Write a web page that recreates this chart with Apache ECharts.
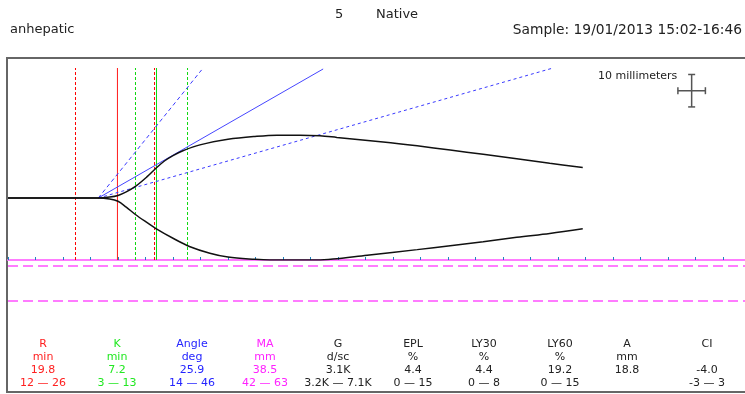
<!DOCTYPE html>
<html>
<head>
<meta charset="utf-8">
<script src="https://cdn.jsdelivr.net/npm/echarts@6/dist/echarts.min.js"></script>
<style>
  html, body { margin: 0; padding: 0; background: #fff; }
  #teg { width: 745px; height: 394px; }
</style>
</head>
<body>
<div id="teg"></div>
<script>
  // tracing, [minutes, mm]
  var upperTrace = [[0, 0], [16.3, 0], [18.5, 0.3], [20.0, 0.8], [21.5, 1.9], [23.1, 3.5], [25.3, 6.6],
    [26.9, 9.2], [28.5, 11.5], [30.0, 13.1], [31.8, 14.6], [34.9, 16.4], [40.0, 18.1], [44.9, 19.0],
    [48.9, 19.4], [53.1, 19.4], [56.7, 19.2], [59.8, 18.7], [68.2, 17.3], [74.4, 16.1], [80.4, 14.8],
    [86.4, 13.5], [92.5, 12.1], [98.5, 10.7], [104.5, 9.4]];
  var lowerTrace = [[0, 0], [16.3, 0], [18.5, -0.3], [20.0, -1.0], [21.5, -2.8], [23.1, -5.0], [25.3, -7.6],
    [26.9, -9.4], [30.0, -12.4], [33.1, -15.0], [36.7, -17.0], [40.0, -18.2], [44.9, -18.9], [47.6, -19.1],
    [56.2, -19.1], [59.1, -18.8], [65.3, -17.6], [74.4, -15.9], [80.4, -14.7], [86.4, -13.5], [92.5, -12.1],
    [98.5, -10.9], [104.5, -9.5]];

  // markers (minutes), as drawn
  var rTime = 19.9;
  var rNormal = [12.27, 26.64];
  var kTime = 27.0;
  var kNormal = [23.18, 32.64];

  // angle lines
  var angleLine = [[16.4, 0], [57.3, 39.8]];
  var angleLowLine = [[16.4, 0], [98.9, 40.0]];
  var angleHighLine = [[16.4, 0], [35.2, 39.5]];

  // lower panel reference levels (mm)
  var lowerRefs = [-20.9, -31.7];

  // 10 mm scale cross (5 min x 10 mm)
  var scaleH = [[121.8, 33.1], [126.8, 33.1]];
  var scaleV = [[124.3, 28.1], [124.3, 38.1]];

  // result table
  var paramNames = ['R', 'K', 'Angle', 'MA', 'G', 'EPL', 'LY30', 'LY60', 'A', 'CI'];
  var paramUnits = ['min', 'min', 'deg', 'mm', 'd/sc', '%', '%', '%', 'mm', ''];
  var paramValues = ['19.8', '7.2', '25.9', '38.5', '3.1K', '4.4', '4.4', '19.2', '18.8', '-4.0'];
  var paramRanges = ['12 — 26', '3 — 13', '14 — 46', '42 — 63', '3.2K — 7.1K', '0 — 15', '0 — 8', '0 — 15', '', '-3 — 3'];
  var paramColors = ['#ff2020', '#22e822', '#2424ff', '#ff22ff', '#222', '#222', '#222', '#222', '#222', '#222'];
  var colX = [43, 117, 192, 265, 338, 413, 484, 560, 627, 707];
  var rowY = [344, 357, 370, 383];

  var FONT = '"DejaVu Sans", Verdana, sans-serif';
  var Y_MIN = -19.1, Y_MAX = 40.1;
  var chart = echarts.init(document.getElementById('teg'));

  var texts = [];
  paramNames.forEach(function (name, i) {
    [name, paramUnits[i], paramValues[i], paramRanges[i]].forEach(function (t, r) {
      texts.push({
        type: 'text', x: colX[i], y: rowY[r], silent: true,
        style: { text: t, fill: paramColors[i], font: '11px ' + FONT, textAlign: 'center', textVerticalAlign: 'middle' }
      });
    });
  });

  // vertical marker spanning the trace panel
  function marker(x, color, dashed) {
    return {
      type: 'line', data: [[x, Y_MIN], [x, Y_MAX]], showSymbol: false, silent: true, z: 1,
      lineStyle: { color: color, width: 1, type: dashed ? [3, 2] : 'solid' }
    };
  }

  var option = {
    animation: false,
    grid: [
      { left: 8, right: 0, top: 68, height: 192 },
      { left: 8, right: 0, top: 260, height: 42 }
    ],
    xAxis: [
      {
        gridIndex: 0, type: 'value', min: 0, max: 134, interval: 5,
        axisLine: { show: true, onZero: false, lineStyle: { color: '#ff7cff', width: 2 } },
        axisTick: { show: true, inside: true, length: 3, lineStyle: { color: '#1f80c0', width: 1 } },
        axisLabel: { show: false }, splitLine: { show: false }
      },
      { gridIndex: 1, type: 'value', min: 0, max: 134, show: false }
    ],
    yAxis: [
      { gridIndex: 0, type: 'value', min: Y_MIN, max: Y_MAX, show: false },
      { gridIndex: 1, type: 'value', min: -32.1, max: -19.1, show: false }
    ],
    series: [
      marker(rNormal[0], '#ff0000', true),
      marker(rNormal[1], '#ff0000', true),
      marker(rTime, '#ff1a1a', false),
      marker(kNormal[0], '#10d810', true),
      marker(kNormal[1], '#10d810', true),
      marker(kTime, '#10d810', false),
      { type: 'line', data: angleLine, showSymbol: false, silent: true, lineStyle: { color: '#4646ff', width: 1 } },
      { type: 'line', data: angleLowLine, showSymbol: false, silent: true, lineStyle: { color: '#3a3aff', width: 1, type: [3, 3] } },
      { type: 'line', data: angleHighLine, showSymbol: false, silent: true, lineStyle: { color: '#3a3aff', width: 1, type: [4, 3] } },
      { type: 'line', data: upperTrace, showSymbol: false, silent: true, smooth: 0.35, lineStyle: { color: '#111', width: 1.5 } },
      { type: 'line', data: lowerTrace, showSymbol: false, silent: true, smooth: 0.35, lineStyle: { color: '#111', width: 1.5 } },
      {
        type: 'line', data: scaleH, silent: true, symbol: 'rect', symbolSize: [1.5, 7],
        itemStyle: { color: '#555' }, lineStyle: { color: '#555', width: 1.5 }
      },
      {
        type: 'line', data: scaleV, silent: true, symbol: 'rect', symbolSize: [7, 1.5],
        itemStyle: { color: '#555' }, lineStyle: { color: '#555', width: 1.5 }
      },
      {
        type: 'line', xAxisIndex: 1, yAxisIndex: 1, data: [], silent: true,
        markLine: {
          silent: true, symbol: ['none', 'none'], label: { show: false },
          lineStyle: { color: '#ff7cff', width: 2, type: [10, 5] },
          data: lowerRefs.map(function (v) { return { yAxis: v }; })
        }
      }
    ],
    graphic: [
      {
        type: 'polyline', silent: true,
        shape: { points: [[746, 58], [7, 58], [7, 392], [746, 392]] },
        style: { stroke: '#666', lineWidth: 2, fill: null }
      },
      { type: 'text', x: 335, y: 15, style: { text: '5', fill: '#222', font: '13px ' + FONT, textVerticalAlign: 'middle' } },
      { type: 'text', x: 376, y: 15, style: { text: 'Native', fill: '#222', font: '13px ' + FONT, textVerticalAlign: 'middle' } },
      { type: 'text', x: 10, y: 30, style: { text: 'anhepatic', fill: '#222', font: '13px ' + FONT, textVerticalAlign: 'middle' } },
      { type: 'text', x: 742, y: 30, style: { text: 'Sample: 19/01/2013 15:02-16:46', fill: '#222', font: '13.8px ' + FONT, textAlign: 'right', textVerticalAlign: 'middle' } },
      { type: 'text', x: 598, y: 76, style: { text: '10 millimeters', fill: '#222', font: '11px ' + FONT, textVerticalAlign: 'middle' } }
    ].concat(texts)
  };

  chart.setOption(option);
  window.addEventListener('resize', function () { chart.resize(); });
</script>
</body>
</html>
